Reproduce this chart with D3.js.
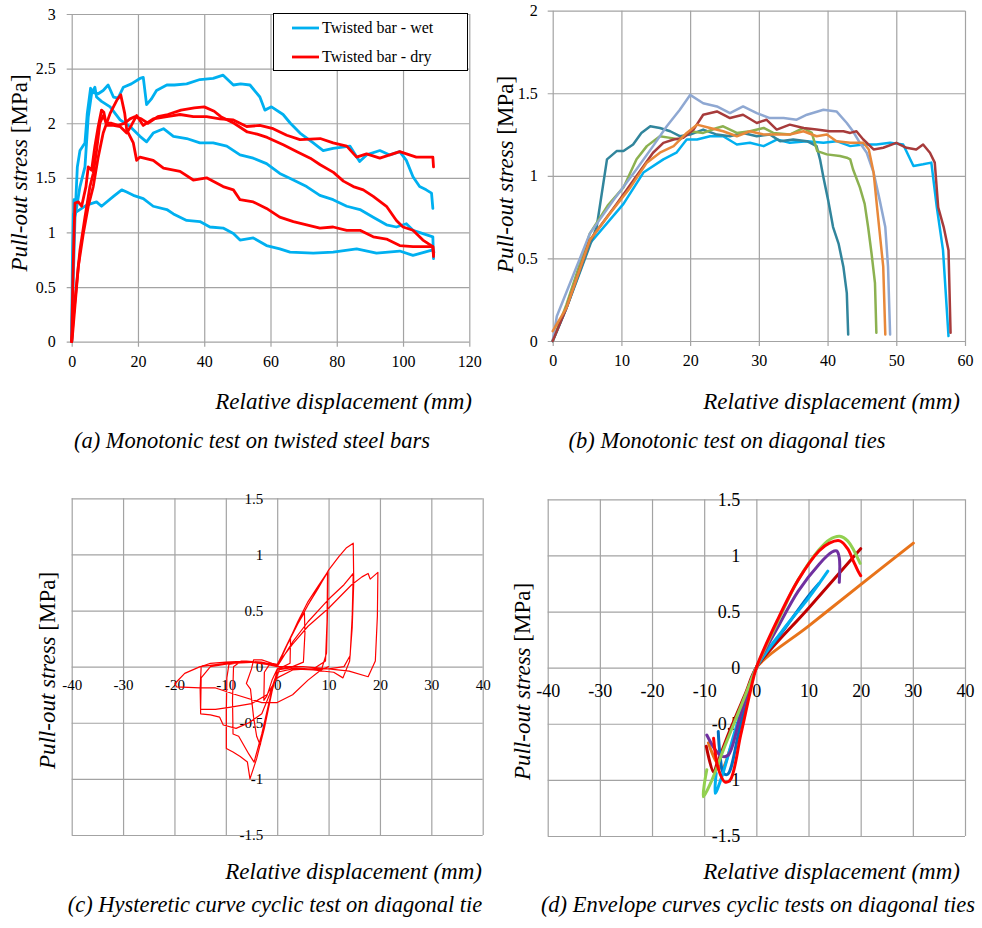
<!DOCTYPE html>
<html><head><meta charset="utf-8">
<script src="https://cdn.jsdelivr.net/npm/d3@7"></script>
<style>
body{margin:0;background:#fff}
svg{display:block;font-family:"Liberation Serif",serif}
</style></head><body>
<script>
// ---- (a) monotonic, twisted bars ----
const wet1 = [[0,0],[0.3,0.6],[0.7,1.3],[1.1,1.2],[1.7,1.6],[2.5,1.75],[4,1.82],[4.7,2.09],[5.7,2.32],[6.5,2.28],[8,2.27],[9.5,2.3],[11,2.35],[12.6,2.24],[14,2.23],[15.6,2.33],[18,2.36],[20.6,2.41],[21.6,2.42],[22.6,2.17],[24,2.22],[25.6,2.30],[28.7,2.35],[31,2.35],[34.7,2.36],[38.7,2.40],[42.7,2.41],[45.7,2.44],[48.8,2.35],[51,2.36],[53.8,2.35],[56.8,2.24],[58.3,2.12],[60.3,2.15],[63.8,2.08],[66,2.0],[68.9,1.91],[72.9,1.82],[75.9,1.75],[78.9,1.77],[84,1.79],[86.9,1.65],[89,1.71],[93,1.75],[96,1.71],[99,1.74],[101,1.66],[103,1.51],[105,1.42],[107,1.39],[108.6,1.36],[109,1.22]];
const wet2 = [[0,0],[0.3,0.38],[1,1.14],[2.5,1.42],[4,1.6],[5,2.06],[6,2.27],[7,2.33],[7.5,2.24],[9,2.2],[11.6,2.15],[14.6,2.03],[17.6,1.97],[20.6,1.88],[22.6,1.83],[24.6,1.91],[27.7,1.95],[30.7,1.88],[34.7,1.86],[38.7,1.82],[42.7,1.82],[46.8,1.79],[50.8,1.71],[54.8,1.68],[58.8,1.63],[62.8,1.54],[66.9,1.48],[70.9,1.42],[74.9,1.34],[78.9,1.30],[83,1.24],[87,1.21],[91,1.14],[95,1.07],[98,1.05],[101,1.08],[103,1.02],[106,0.99],[109,0.96],[109.2,0.76]];
const wet3 = [[0,0],[0.2,0.7],[0.5,1.17],[2,1.2],[4.5,1.25],[7.5,1.28],[9,1.24],[12.6,1.33],[15.1,1.39],[16.6,1.37],[18.6,1.34],[21.6,1.31],[24.6,1.24],[28.7,1.21],[30.7,1.17],[34.7,1.11],[38.7,1.10],[41.7,1.05],[45.7,1.04],[48.8,0.99],[50.8,0.93],[54.8,0.95],[58.8,0.88],[62.8,0.85],[65.9,0.82],[72.9,0.81],[78.9,0.82],[86,0.85],[92,0.81],[99,0.83],[103,0.79],[109,0.84],[109.3,0.82]];
const dry1 = [[0,0],[0.3,0.5],[0.7,0.99],[1,1.27],[2,1.28],[3,1.24],[4.3,1.42],[5,1.6],[6,1.57],[7,1.79],[8,1.97],[9,2.12],[9.7,2.1],[10.5,1.98],[12.6,1.98],[14.6,1.97],[16.6,1.91],[18,1.98],[19.6,2.07],[21.6,1.98],[24.6,2.04],[28.7,2.06],[32.7,2.08],[36.7,2.06],[40.7,2.06],[44.7,2.04],[48.8,2.03],[52.8,1.97],[56.8,1.98],[60.8,1.95],[64.9,1.89],[68.9,1.85],[75,1.86],[78.9,1.82],[83,1.79],[86,1.69],[89,1.72],[93,1.68],[99,1.74],[104,1.69],[109,1.69],[109.2,1.6]];
const dry2 = [[0,0],[0.5,0.23],[2.5,0.84],[4,1.14],[5.5,1.42],[6.5,1.54],[7.5,1.75],[8.5,2.0],[9.5,2.07],[10.5,2.0],[12,2.0],[14,1.98],[16,2.0],[17.6,2.04],[19,2.06],[21,2.04],[23,2.0],[26,2.06],[29,2.08],[33,2.12],[37,2.14],[40,2.15],[43,2.11],[45,2.06],[49,2.0],[53,1.92],[56,1.9],[59,1.87],[64,1.8],[68,1.74],[72,1.68],[75,1.62],[79,1.55],[82,1.47],[85,1.42],[88,1.39],[91,1.33],[95,1.24],[98,1.11],[100,1.05],[103,1.02],[106,0.93],[109,0.87],[109.2,0.8]];
const dry3 = [[0,0],[0.3,0.08],[2,0.69],[3.5,0.99],[5,1.24],[6.5,1.42],[8,1.69],[9.5,1.91],[11.6,2.09],[13.6,2.21],[14.8,2.26],[16,2.09],[16.6,1.94],[18.6,1.82],[19.6,1.66],[20.6,1.69],[24.6,1.66],[27.7,1.59],[32.7,1.56],[36.7,1.48],[40.7,1.5],[45.7,1.42],[48.8,1.39],[50.8,1.3],[54.8,1.28],[58.8,1.22],[62.8,1.14],[66.9,1.10],[70.9,1.07],[74.9,1.04],[78.9,1.05],[83,1.02],[87,1.02],[91,0.96],[95,0.94],[99,0.88],[103,0.87],[109,0.87],[109.2,0.78]];
const legendNames = ['Twisted bar - wet', 'Twisted bar - dry'];

// ---- (b) monotonic, diagonal ties ----
const tieTeal = [[0,0],[2,0.2],[4,0.42],[6.4,0.69],[7.9,1.10],[9.3,1.15],[10.3,1.15],[11.7,1.19],[12.9,1.26],[14.2,1.30],[15.6,1.29],[17.1,1.27],[18.5,1.24],[20,1.25],[21.9,1.28],[23.9,1.25],[25.8,1.24],[27.7,1.26],[29.7,1.24],[31.6,1.25],[33.1,1.21],[35,1.22],[37,1.21],[38.4,1.18],[38.9,1.10],[39.4,0.99],[40.1,0.85],[40.8,0.69],[41.6,0.59],[42.3,0.45],[42.8,0.29],[43,0.04]];
const tieGreen = [[0,0],[2,0.22],[5.4,0.65],[8,0.82],[10.3,0.93],[12.2,1.10],[13.7,1.18],[15.6,1.24],[17.1,1.23],[18.5,1.22],[20,1.27],[21.9,1.26],[23.9,1.29],[24.8,1.30],[26.8,1.26],[28.7,1.27],[30.7,1.29],[32.1,1.26],[34.5,1.25],[36.5,1.29],[37.7,1.26],[38.5,1.15],[39.9,1.13],[41.8,1.12],[42.8,1.11],[43.3,1.10],[43.7,1.04],[44.7,0.93],[45.4,0.83],[45.9,0.69],[46.4,0.53],[46.9,0.35],[47.1,0.05]];
const tieOrange = [[0,0.06],[2,0.2],[5.4,0.61],[8.3,0.77],[11.3,0.93],[13.7,1.08],[15.6,1.14],[17.6,1.18],[19.5,1.26],[21,1.31],[22.9,1.29],[24.8,1.27],[26.8,1.24],[28.7,1.27],[30.7,1.25],[32.6,1.25],[34.5,1.25],[36.5,1.27],[38.4,1.24],[39.9,1.25],[41.3,1.21],[43.3,1.20],[45.2,1.20],[46,1.16],[46.7,1.02],[47.2,0.81],[47.6,0.65],[48.1,0.45],[48.4,0.04]];
const tieSteel = [[0,0],[0.6,0.15],[3,0.4],[5.4,0.65],[8.8,0.85],[12.2,1.04],[14.6,1.18],[16.6,1.30],[18.5,1.40],[20,1.49],[21.9,1.44],[23.9,1.42],[25.8,1.38],[27.7,1.42],[29.7,1.38],[31.6,1.35],[33.6,1.35],[35.5,1.34],[37,1.37],[39.4,1.40],[41.3,1.39],[42.8,1.32],[43.7,1.27],[44.7,1.20],[45.7,1.14],[46.7,1.02],[47.6,0.85],[48.4,0.69],[48.8,0.45],[49.1,0.04]];
const tieDarkRed = [[0,0],[2,0.2],[5.4,0.61],[9.3,0.83],[12.2,1.00],[14.6,1.14],[16.1,1.20],[17.6,1.22],[19,1.23],[20.5,1.28],[21.9,1.37],[23.9,1.39],[25.8,1.35],[27.7,1.37],[29.7,1.32],[31.1,1.34],[32.6,1.28],[34.5,1.31],[36.5,1.29],[38.4,1.28],[40.3,1.27],[42.3,1.27],[43.3,1.26],[44.2,1.27],[45.2,1.22],[46.7,1.16],[48.1,1.17],[50,1.20],[51.5,1.17],[52.9,1.16],[53.9,1.19],[54.9,1.14],[55.6,1.08],[56.1,0.81],[56.9,0.69],[57.6,0.55],[57.9,0.05]];
const tieCyan = [[0,0],[2,0.2],[5.4,0.59],[10.3,0.83],[13.2,1.02],[16.1,1.10],[18,1.14],[19.5,1.22],[21,1.22],[22.9,1.24],[24.8,1.24],[26.8,1.19],[28.7,1.20],[30.7,1.18],[32.6,1.22],[34.5,1.20],[37,1.21],[39.4,1.20],[41.3,1.21],[43.3,1.18],[45.2,1.19],[47.1,1.19],[49.1,1.20],[51,1.19],[52.5,1.06],[53.9,1.07],[55.1,1.08],[55.9,0.81],[56.8,0.55],[57.6,0.03]];

// ---- (c) hysteretic cyclic test ----
const hysteresis = [
  [0,0],[1,0.1],[2,0.2],[2.6,0.25],[2.5,0.03],[1.2,0],[0,-0.02],[-1,-0.12],[-2,-0.26],[-2.6,-0.3],[-2.5,-0.05],[-1.5,0.02],[0,0.01],
  [1.5,0.16],[3,0.3],[4.5,0.42],[5.3,0.48],[5.4,0.3],[5.1,0.04],[3,0],[0.5,-0.02],[-1,-0.2],[-2.2,-0.45],[-3.3,-0.7],[-4,-0.62],[-4.6,-0.45],[-5.2,-0.2],[-6,-0.15],[-5,-0.02],[-4.6,0.06],[-3,0.06],[-1,0.03],[0,0.02],
  [2,0.2],[4,0.4],[6,0.58],[8,0.72],[9.9,0.85],[9.8,0.5],[9.6,0.12],[8.6,-0.03],[6,-0.02],[3,-0.01],[0,-0.03],[-1,-0.22],[-2.5,-0.55],[-4,-0.82],[-5.3,-1.0],[-5.8,-0.85],[-7.2,-0.8],[-8.6,-0.76],[-9.9,-0.73],[-9.9,-0.4],[-9.8,-0.1],[-9.4,0.02],[-7,0.04],[-4,0.04],[-1,0.02],[0,0],
  [3,0.3],[6,0.55],[9.8,0.84],[9.7,0.4],[9.4,0.05],[7,-0.02],[3,-0.02],[0,-0.05],[-1.5,-0.3],[-3,-0.6],[-4.5,-0.85],[-5.5,-0.78],[-7.5,-0.62],[-8.6,-0.6],[-8.7,-0.3],[-8.5,0.0],[-7,0.05],[-3,0.04],[0,0.01],
  [2,0.2],[4,0.38],[6,0.55],[8,0.7],[10,0.86],[12,0.98],[13.5,1.06],[14.8,1.1],[14.9,0.75],[14.6,0.35],[14.1,0.05],[12.8,-0.1],[11,-0.05],[7,-0.03],[3,-0.02],[0,-0.05],[-1.5,-0.25],[-3,-0.42],[-5.5,-0.5],[-8,-0.55],[-10.5,-0.52],[-11.2,-0.45],[-13,-0.43],[-14.9,-0.42],[-15,-0.2],[-14.8,0.0],[-13,0.03],[-10,0.04],[-6,0.05],[-3,0.04],[0,0],
  [3,0.22],[6,0.4],[10,0.6],[13,0.73],[14.8,0.83],[14.6,0.45],[14.2,0.1],[13,0.0],[10,-0.02],[6,-0.02],[3,-0.03],[0,-0.1],[-2,-0.25],[-5,-0.33],[-9,-0.36],[-12,-0.38],[-14.9,-0.38],[-14.8,-0.1],[-13,0.0],[-9,0.03],[-4,0.04],[0,0.02],
  [3,0.2],[6,0.36],[10,0.52],[14.5,0.73],[16.5,0.8],[17.7,0.83],[18.1,0.78],[18.6,0.8],[19.6,0.84],[19.5,0.45],[19.1,0.05],[17.7,-0.09],[14,-0.04],[10,-0.02],[5,0],[0,0],[-2,0.02],[-5,0.04],[-10,0.03],[-15,0.0],[-18,-0.06],[-19.9,-0.15],
  [-19.6,-0.18],[-15,-0.19],[-12,-0.19],[-8,-0.25],[-3,-0.32],[0,-0.32],[3,-0.25],[6,-0.12],[8.5,-0.03],[10,0]
];

// ---- (d) envelope curves ----
const envOrange = [[-9.2,-0.67],[-7.9,-0.82],[-6.6,-0.90],[-5,-0.72],[-3,-0.45],[-1,-0.15],[0,0],[10,0.37],[20,0.74],[30.1,1.11]];
const envDarkRed = [[-9.6,-0.70],[-8.2,-0.93],[-7.5,-0.85],[-5,-0.55],[-2,-0.22],[0,0],[10,0.53],[20,1.06]];
const envBlue = [[-7.3,-0.57],[-7.0,-0.76],[-6.3,-0.94],[-5.5,-0.95],[-3,-0.5],[0,0],[5,0.32],[10,0.64],[12,0.75]];
const envCyan = [[-7.7,-0.94],[-7.9,-1.12],[-6.6,-0.97],[-4,-0.55],[-2,-0.27],[0,0],[5,0.33],[10,0.62],[13.7,0.86]];
const envPurple = [[-9.5,-0.6],[-7.9,-0.73],[-6.6,-0.79],[-5.4,-0.78],[-3,-0.42],[0,0],[4,0.35],[8,0.68],[12,0.92],[14.5,1.03],[15.4,1.04],[15.9,0.98],[15.9,0.76]];
const envGreen = [[-9.5,-0.91],[-10.2,-1.15],[-8.5,-1.0],[-6.3,-0.73],[-3,-0.35],[0,0],[4,0.4],[8,0.78],[12,1.05],[14,1.14],[16,1.17],[17.5,1.13],[19.9,0.93]];
const envRed = [[-8.2,-0.63],[-7.3,-0.9],[-6,-1.02],[-5,-1.0],[-3,-0.6],[-1,-0.18],[0,0],[4,0.42],[8,0.78],[12,1.04],[14,1.11],[16,1.13],[17.5,1.06],[18.6,0.95],[19.5,0.86],[20,0.82]];

const ticksA_x = [0,20,40,60,80,100,120];
const ticksA_y = [0,0.5,1,1.5,2,2.5,3];
const ticksB_x = [0,10,20,30,40,50,60];
const ticksB_y = [0,0.5,1,1.5,2];
const ticksCD_x = [-40,-30,-20,-10,0,10,20,30,40];
const ticksCD_y = [-1.5,-1,-0.5,0,0.5,1,1.5];

const grey = '#a3a3a3';
const svg = d3.select('body').append('svg').attr('width', 982).attr('height', 928);

function panel(o) {
  const g = svg.append('g').attr('transform', `translate(${o.left},${o.top})`);
  const x = d3.scaleLinear().domain(o.xDomain).range([0, o.w]);
  const y = d3.scaleLinear().domain(o.yDomain).range([o.h, 0]);
  const ext = o.crossed ? 0 : 5;

  g.append('g').attr('class', 'grid')
      .attr('transform', `translate(0,${o.h + ext})`)
      .call(d3.axisBottom(x).tickValues(o.xTicks).tickSize(-(o.h + ext)).tickFormat(''));
  g.append('g').attr('class', 'grid')
      .attr('transform', `translate(${-ext},0)`)
      .call(d3.axisLeft(y).tickValues(o.yTicks).tickSize(-(o.w + ext)).tickFormat(''));
  g.selectAll('.grid .domain').remove();
  g.selectAll('.grid line').attr('stroke', grey).attr('stroke-width', 1.2);

  const xl = g.append('g')
      .attr('transform', `translate(0,${o.crossed ? y(0) : o.h + ext})`)
      .call(d3.axisBottom(x).tickValues(o.xTicks).tickSize(0).tickPadding(o.xPad).tickFormat(String));
  const yl = g.append('g')
      .attr('transform', `translate(${o.crossed ? x(0) : -ext},0)`)
      .call(d3.axisLeft(y).tickValues(o.yTicks).tickSize(0).tickPadding(o.yPad).tickFormat(String));
  [xl, yl].forEach(a => {
    a.select('.domain').remove();
    a.attr('font-family', '"Liberation Serif", serif').attr('font-size', o.tickSize);
    a.selectAll('text').attr('fill', '#000');
  });

  const line = d3.line().x(d => x(d[0])).y(d => y(d[1])).curve(o.curve || d3.curveLinear);
  o.series.forEach(s => {
    g.append('path').datum(s.data)
        .attr('d', line)
        .attr('fill', 'none')
        .attr('stroke', s.color)
        .attr('stroke-width', o.sw)
        .attr('stroke-linejoin', 'round')
        .attr('stroke-linecap', 'round');
  });
  return {g, x, y};
}

function yTitle(cx, cy, size) {
  const t = svg.append('text')
      .attr('transform', `translate(${cx},${cy}) rotate(-90)`)
      .attr('text-anchor', 'middle')
      .attr('font-size', size);
  t.append('tspan').attr('font-style', 'italic').text('Pull-out stress ');
  t.append('tspan').text('[MPa]');
}
function xTitle(xr, yb) {
  svg.append('text').attr('x', xr).attr('y', yb)
      .attr('text-anchor', 'end').attr('font-style', 'italic').attr('font-size', 23)
      .text('Relative displacement (mm)');
}
function caption(cx, yb, s) {
  svg.append('text').attr('x', cx).attr('y', yb)
      .attr('text-anchor', 'middle').attr('font-style', 'italic').attr('font-size', 22.5)
      .text(s);
}

// (a)
panel({
  left: 71.7, top: 14, w: 397.6, h: 327.7,
  xDomain: [0, 120], yDomain: [0, 3], xTicks: ticksA_x, yTicks: ticksA_y,
  xPad: 9, yPad: 11, tickSize: 16, sw: 2.8,
  series: [
    {data: wet3, color: '#00b0f0'}, {data: wet2, color: '#00b0f0'}, {data: wet1, color: '#00b0f0'},
    {data: dry3, color: '#ff0000'}, {data: dry2, color: '#ff0000'}, {data: dry1, color: '#ff0000'}
  ]
});
const leg = svg.append('g');
leg.append('rect').attr('x', 273.5).attr('y', 13.5).attr('width', 194).attr('height', 57)
    .attr('fill', '#fff').attr('stroke', '#000').attr('stroke-width', 1);
legendNames.forEach((n, i) => {
  const yy = 28 + i * 29;
  leg.append('line').attr('x1', 292).attr('x2', 319).attr('y1', yy).attr('y2', yy)
      .attr('stroke', i ? '#ff0000' : '#00b0f0').attr('stroke-width', 2.8);
  leg.append('text').attr('x', 322).attr('y', yy + 5).attr('font-size', 16).text(n);
});
yTitle(27, 173, 23);
xTitle(472, 409);
caption(252, 448, '(a) Monotonic test on twisted steel bars');

// (b)
panel({
  left: 552.7, top: 10.7, w: 412.3, h: 330.3,
  xDomain: [0, 60], yDomain: [0, 2], xTicks: ticksB_x, yTicks: ticksB_y,
  xPad: 9, yPad: 10, tickSize: 16, sw: 2.5,
  series: [
    {data: tieCyan, color: '#00b0f0'}, {data: tieTeal, color: '#31859c'},
    {data: tieGreen, color: '#8cb150'}, {data: tieSteel, color: '#8fa8d2'},
    {data: tieDarkRed, color: '#a73b3b'}, {data: tieOrange, color: '#e8883a'}
  ]
});
yTitle(513, 174.5, 23);
xTitle(960, 409);
caption(727, 448, '(b) Monotonic test on diagonal ties');

// (c)
panel({
  left: 71.7, top: 498.3, w: 411, h: 336.7, crossed: true,
  xDomain: [-40, 40], yDomain: [-1.5, 1.5], xTicks: ticksCD_x, yTicks: ticksCD_y,
  xPad: 13, yPad: 14, tickSize: 15, sw: 1.2,
  series: [{data: hysteresis, color: '#ff0000'}]
});
yTitle(55, 670.5, 23);
xTitle(482, 879);
caption(275, 912, '(c) Hysteretic curve cyclic test on diagonal tie');

// (d)
panel({
  left: 547.7, top: 499.3, w: 417.3, h: 336.7, crossed: true,
  xDomain: [-40, 40], yDomain: [-1.5, 1.5], xTicks: ticksCD_x, yTicks: ticksCD_y,
  xPad: 17, yPad: 16, tickSize: 18, sw: 3, curve: d3.curveCatmullRom,
  series: [
    {data: envOrange, color: '#e8731a'}, {data: envDarkRed, color: '#c00000'},
    {data: envBlue, color: '#0070c0'}, {data: envCyan, color: '#00b0f0'},
    {data: envPurple, color: '#7030a0'}, {data: envGreen, color: '#92d050'},
    {data: envRed, color: '#ff0000'}
  ]
});
yTitle(530, 681.5, 23);
xTitle(960, 879);
caption(758, 912, '(d) Envelope curves cyclic tests on diagonal ties');
</script>
</body></html>
